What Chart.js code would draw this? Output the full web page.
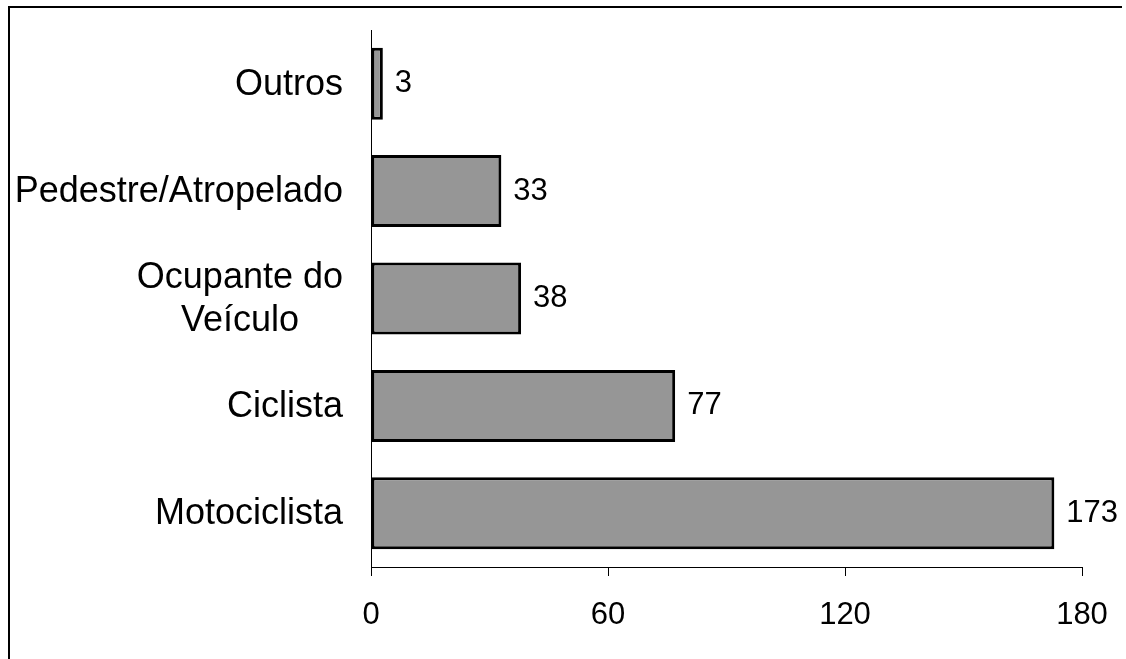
<!DOCTYPE html>
<html>
<head>
<meta charset="utf-8">
<script src="https://cdn.jsdelivr.net/npm/chart.js@4/dist/chart.umd.min.js"></script>
<style>
  html, body { margin: 0; padding: 0; background: #fff; }
  #wrap { position: relative; width: 1126px; height: 659px; }
</style>
</head>
<body>
<div id="wrap"><canvas id="c" width="1126" height="659"></canvas></div>
<script>
// Victims of traffic accidents by type
const categories = ['Outros', 'Pedestre/Atropelado', ['Ocupante do', 'Veículo'], 'Ciclista', 'Motociclista'];
const counts = [3, 33, 38, 77, 173];
const xTicks = [0, 60, 120, 180];

const FONT = '"Liberation Sans", Arial, sans-serif';

// Outer frame (left and top edges) on a white background
const framePlugin = {
  id: 'frame',
  beforeDraw(chart) {
    const ctx = chart.ctx;
    ctx.save();
    ctx.fillStyle = '#fff';
    ctx.fillRect(0, 0, chart.width, chart.height);
    ctx.strokeStyle = '#000';
    ctx.lineWidth = 2;
    ctx.beginPath();
    ctx.moveTo(9, chart.height);
    ctx.lineTo(9, 7);
    ctx.lineTo(1122, 7);
    ctx.stroke();
    ctx.restore();
  }
};

// Category names left of the axis; wrapped names are centred on each other
const categoryLabels = {
  id: 'categoryLabels',
  afterDraw(chart) {
    const ctx = chart.ctx;
    const yScale = chart.scales.y;
    const right = chart.chartArea.left - 28;
    const lineH = 43;
    ctx.save();
    ctx.fillStyle = '#000';
    ctx.font = '36px ' + FONT;
    ctx.textBaseline = 'middle';
    categories.forEach((lab, i) => {
      const y = yScale.getPixelForTick(i);
      if (Array.isArray(lab)) {
        const w = Math.max(...lab.map(s => ctx.measureText(s).width));
        const cx = right - w / 2;
        ctx.textAlign = 'center';
        const y0 = y + 1 - (lab.length - 1) * lineH / 2;
        lab.forEach((s, k) => ctx.fillText(s, cx, y0 + k * lineH));
      } else {
        ctx.textAlign = 'right';
        ctx.fillText(lab, right, y + 1);
      }
    });
    ctx.restore();
  }
};

// Value written just past the end of each bar
const valueLabels = {
  id: 'valueLabels',
  afterDatasetsDraw(chart) {
    const ctx = chart.ctx;
    const meta = chart.getDatasetMeta(0);
    ctx.save();
    ctx.fillStyle = '#000';
    ctx.font = '31px ' + FONT;
    ctx.textAlign = 'left';
    ctx.textBaseline = 'middle';
    meta.data.forEach((bar, i) => {
      ctx.fillText(String(counts[i]), bar.x + 12, bar.y);
    });
    ctx.restore();
  }
};

new Chart(document.getElementById('c'), {
  type: 'bar',
  data: {
    labels: categories,
    datasets: [{
      data: counts,
      backgroundColor: '#969696',
      borderColor: '#000',
      borderWidth: 3,
      borderSkipped: false,
      categoryPercentage: 1,
      barPercentage: 0.67
    }]
  },
  options: {
    indexAxis: 'y',
    responsive: false,
    animation: false,
    devicePixelRatio: 1,
    layout: { padding: { top: 30, right: 44, left: 0, bottom: 0 } },
    plugins: { legend: { display: false }, tooltip: { enabled: false } },
    scales: {
      x: {
        type: 'linear',
        min: 0,
        max: 180,
        afterBuildTicks(scale) { scale.ticks = xTicks.map(v => ({ value: v })); },
        afterFit(scale) {
          scale.height = 92;
          scale.paddingLeft = 0;
          scale.paddingRight = 0;
        },
        border: { display: true, color: '#000', width: 1 },
        grid: { drawOnChartArea: false, drawTicks: true, tickLength: 9, color: '#000' },
        ticks: {
          color: '#000',
          font: { family: FONT, size: 31 },
          padding: 21,
          maxRotation: 0
        }
      },
      y: {
        afterFit(scale) { scale.width = 371; },
        border: { display: true, color: '#000', width: 1 },
        grid: { display: false },
        ticks: { display: false }
      }
    }
  },
  plugins: [framePlugin, categoryLabels, valueLabels]
});
</script>
</body>
</html>
